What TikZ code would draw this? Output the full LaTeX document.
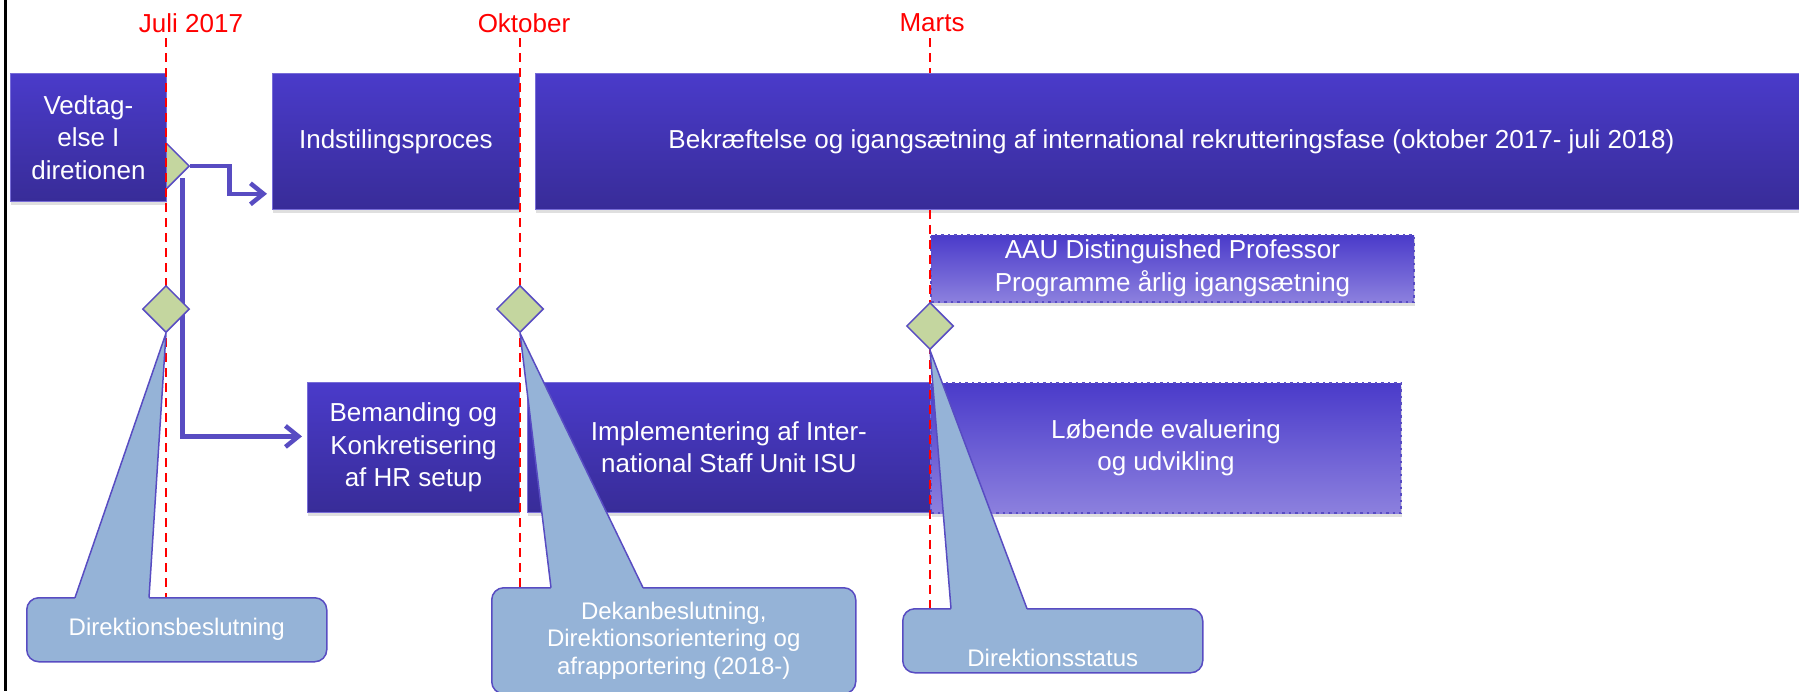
\documentclass[tikz,border=0pt]{standalone}
\usepackage{fontspec}
\setmainfont{Liberation Sans}
\usetikzlibrary{positioning,shapes.geometric,shadows,arrows.meta}

\definecolor{barTop}{RGB}{74,59,202}
\definecolor{barBot}{RGB}{56,44,152}
\definecolor{barLight}{RGB}{140,128,222}
\definecolor{lineViolet}{RGB}{88,76,194}
\definecolor{msGreen}{RGB}{196,214,159}
\definecolor{noteBlue}{RGB}{149,179,215}

\newcommand{\barfont}{\fontsize{26}{32.5}\selectfont}
\newcommand{\notefont}{\fontsize{24}{27.5}\selectfont}

\tikzset{
bar/.style={rectangle, anchor=north west, top color=barTop, bottom color=barBot, draw=barTop!75!white, line width=0.8pt, text=white, align=center, font=\barfont, drop shadow={shadow xshift=1pt, shadow yshift=-4pt, opacity=0.25}},
plan/.style={bar, bottom color=barLight, draw=lineViolet, line width=2pt, dash pattern=on 2.5pt off 4pt},
month/.style={text=red, font=\fontsize{26}{30}\selectfont},
deadline/.style={red, line width=2.5pt, dash pattern=on 9pt off 6pt},
milestone/.style={diamond, fill=msGreen, draw=lineViolet, line width=1.5pt, minimum size=47pt, inner sep=0pt},
note/.style={rectangle, anchor=north west, rounded corners=12pt, fill=noteBlue, draw=lineViolet, line width=1.5pt, text=white, align=center, font=\notefont},
pointer/.style={draw=lineViolet, line width=1.5pt, line join=round},
conn/.style={draw=lineViolet, line width=4.5pt, shorten >=5pt, -{Straight Barb[length=13pt,width=21pt]}}
}

\begin{document}
\begin{tikzpicture}[x=1pt, y=-1pt]
	\useasboundingbox (0,0) rectangle (1799,691);
	\draw[line width=3pt] (5,0) -- (5,691);

	% decision point hidden behind the first box
	\node[milestone] (dvedt) at (166,166) {};

	% phases
	\node[bar, minimum width=156pt, minimum height=128pt] (vedt) at (10,73) {Vedtag-\\else I\\diretionen};
	\node[bar, minimum width=247pt, minimum height=136pt] (indst) at (272,73) {Indstilingsproces};
	\node[bar, minimum width=1272pt, minimum height=136pt] (bekr) at (535,73) {Bekræftelse og igangsætning af international rekrutteringsfase (oktober 2017- juli 2018)};
	\node[plan, minimum width=483pt, minimum height=67pt] (aau) at (930,234) {AAU Distinguished Professor\\Programme årlig igangsætning};
	\node[bar, minimum width=212pt, minimum height=130pt] (beman) at (307,382) {Bemanding og\\Konkretisering\\af HR setup};
	\node[bar, minimum width=403pt, minimum height=130pt] (impl) at (527,382) {Implementering af Inter-\\national Staff Unit ISU};
	\node[plan, minimum width=470pt, minimum height=130pt] (loeb) at (930,382) {Løbende evaluering\\og udvikling};

	\draw[conn] (dvedt.east) -- ++(39,0) |- ([yshift=16pt]indst.south west);
	\draw[conn] ([xshift=4.5pt]dvedt.south east) |- ([yshift=11pt]beman.west);

	% months
	\node[month] (mjuli) at (191,23) {Juli 2017};
	\node[month] (mokt) at (524,23) {Oktober};
	\node[month] (mmarts) at (932,23) {Marts};
	\coordinate (tjuli) at (166,38);
	\coordinate (tokt) at (520,38);
	\coordinate (tmarts) at (930,38);
	\draw[deadline] (tjuli) -- ++(0,620);
	\draw[deadline] (tokt) -- ++(0,620);
	\draw[deadline] (tmarts) -- (tmarts |- bekr.north);
	\draw[deadline] (tmarts |- bekr.south) -- ++(0,450);

	\node[milestone] (djuli) at (166,309) {};
	\node[milestone] (dokt) at (520,309) {};
	\node[milestone] (dmarts) at (930,326) {};

	% callouts
	\node[note, minimum width=300pt, minimum height=64pt] (besl) at (26,597) {Direktionsbeslutning};
	\fill[noteBlue] ([xshift=49pt,yshift=-2pt]besl.north west) -- (djuli.south) -- ([xshift=123pt,yshift=-2pt]besl.north west) -- cycle;
	\draw[pointer] ([xshift=49pt,yshift=-0.7pt]besl.north west) -- (djuli.south) -- ([xshift=123pt,yshift=-0.7pt]besl.north west);

	\node[note, minimum width=364pt, minimum height=106pt] (dekan) at (491,587) {Dekanbeslutning,\\Direktionsorientering og\\afrapportering (2018-)};
	\fill[noteBlue] ([xshift=60pt,yshift=-2pt]dekan.north west) -- (dokt.south) -- ([xshift=152pt,yshift=-2pt]dekan.north west) -- cycle;
	\draw[pointer] ([xshift=60pt,yshift=-0.7pt]dekan.north west) -- (dokt.south) -- ([xshift=152pt,yshift=-0.7pt]dekan.north west);

	\node[note, minimum width=300pt, minimum height=64pt, text height=52pt, text depth=0pt] (stat) at (902,608) {Direktionsstatus};
	\fill[noteBlue] ([xshift=49pt,yshift=-2pt]stat.north west) -- (dmarts.south) -- ([xshift=125pt,yshift=-2pt]stat.north west) -- cycle;
	\draw[pointer] ([xshift=49pt,yshift=-0.7pt]stat.north west) -- (dmarts.south) -- ([xshift=125pt,yshift=-0.7pt]stat.north west);
\end{tikzpicture}
\end{document}
